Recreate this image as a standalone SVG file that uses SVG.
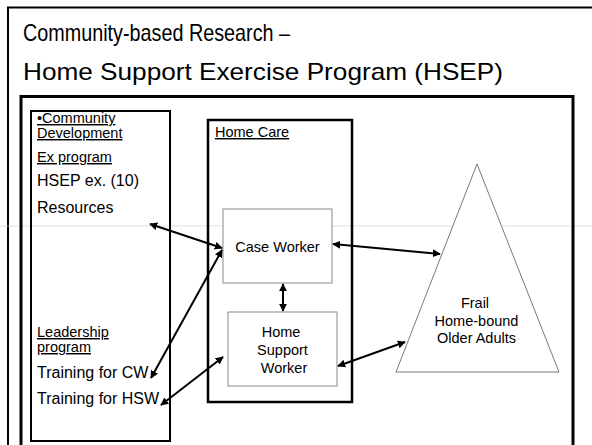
<svg xmlns="http://www.w3.org/2000/svg" width="592" height="445" viewBox="0 0 592 445">
<defs>
<style>
text{font-family:"Liberation Sans",Arial,sans-serif;fill:#000}
.title{font-size:24px}
.big{font-size:16px}
.ul{font-size:14.5px;text-decoration:underline}
.mid{font-size:14.5px}
.sm{font-size:14.5px}
.conn{stroke:#000;stroke-width:2;fill:none;marker-start:url(#ah);marker-end:url(#ah)}
</style>
<marker id="ah" viewBox="0 0 10 10" refX="9" refY="5" markerWidth="4" markerHeight="4" orient="auto-start-reverse" markerUnits="strokeWidth">
<path d="M0,0 L10,5 L0,10 z" fill="#000"/>
</marker>
</defs>
<rect width="592" height="445" fill="#fff"/>
<g id="frame">
<path d="M8,445 V7.5 H592" stroke="#000" stroke-width="2" fill="none"/>
<line x1="0" y1="226" x2="592" y2="226" stroke="#ccc" stroke-width="0.6"/>
<path d="M21,445 V96.5 H573 V445" stroke="#000" stroke-width="3" fill="none"/>
<text class="title" x="23" y="41" textLength="267" lengthAdjust="spacingAndGlyphs">Community-based Research –</text>
<text class="title" x="23" y="80" textLength="480" lengthAdjust="spacingAndGlyphs">Home Support Exercise Program (HSEP)</text>
</g>
<g id="community">
<rect x="31" y="111" width="139" height="330" fill="none" stroke="#000" stroke-width="2"/>
<text class="ul" x="37" y="123">•Community</text>
<text class="ul" x="37" y="138">Development</text>
<text class="ul" x="37" y="162">Ex program</text>
<text class="big" x="37" y="186">HSEP ex. (10)</text>
<text class="big" x="37" y="213">Resources</text>
<text class="ul" x="37" y="337">Leadership</text>
<text class="ul" x="37" y="352">program</text>
<text class="big" x="37" y="378">Training for CW</text>
<text class="big" x="37" y="404">Training for HSW</text>
</g>
<g id="homecare">
<rect x="208" y="120" width="144" height="282" fill="none" stroke="#000" stroke-width="2.5"/>
<text class="mid" x="215" y="137" text-decoration="underline">Home Care</text>
</g>
<g id="caseworker">
<rect x="223" y="209" width="109" height="74" fill="#fff" stroke="#888" stroke-width="1"/>
<text class="mid" x="277.5" y="252" text-anchor="middle">Case Worker</text>
</g>
<g id="hsw">
<rect x="228" y="312" width="109" height="74" fill="#fff" stroke="#888" stroke-width="1"/>
<text class="mid" x="281" y="337" text-anchor="middle">Home</text>
<text class="mid" x="282.5" y="355" text-anchor="middle">Support</text>
<text class="mid" x="284" y="373" text-anchor="middle">Worker</text>
</g>
<g id="adults">
<polygon points="477,164 396,372 559,372" fill="#fff" stroke="#555" stroke-width="0.8"/>
<text class="sm" x="475" y="308" text-anchor="middle">Frail</text>
<text class="sm" x="476.5" y="326" text-anchor="middle">Home-bound</text>
<text class="sm" x="476.5" y="343" text-anchor="middle">Older Adults</text>
</g>
<g id="connectors">
<line class="conn" x1="150" y1="224" x2="222" y2="248"/>
<line class="conn" x1="151" y1="378" x2="222" y2="250"/>
<line class="conn" x1="161" y1="405" x2="223" y2="357"/>
<line class="conn" x1="333" y1="244" x2="440" y2="254"/>
<line class="conn" x1="338" y1="366" x2="405" y2="342"/>
<line class="conn" x1="283" y1="284" x2="283" y2="311"/>
</g>
</svg>
